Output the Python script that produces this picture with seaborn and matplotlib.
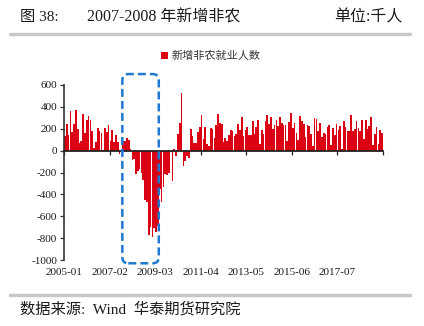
import numpy as np
import pandas as pd
import matplotlib
matplotlib.use("Agg")
import matplotlib.pyplot as plt
import matplotlib.transforms as mtransforms
from matplotlib.patches import FancyBboxPatch
import seaborn as sns

# ---------------- data (thousands, monthly) ----------------
months = pd.date_range("2005-01-01", "2019-07-01", freq="MS").strftime("%Y-%m").tolist()
nfp_2005 = [136, 240, 142, 362, 172, 246, 370, 196, 67, 84, 337, 159]
nfp_2006 = [277, 315, 280, 182, 23, 77, 207, 184, 157, 2, 210, 171]
nfp_2007 = [238, 90, 189, 79, 143, 78, -33, -24, 88, 84, 114, 97]
nfp_2008 = [17, -85, -78, -210, -185, -165, -209, -266, -452, -473, -769, -695]
nfp_2009 = [-791, -703, -740, -686, -351, -470, -329, -212, -219, -200, -7, -279]
nfp_2010 = [18, -50, 156, 251, 530, -139, -95, -53, -65, 198, 132, 71]
nfp_2011 = [70, 168, 212, 322, 102, 217, 59, 44, 207, 202, 112, 230]
nfp_2012 = [338, 257, 239, 77, 115, 87, 143, 190, 181, 132, 149, 244]
nfp_2013 = [190, 311, 135, 192, 218, 146, 140, 268, 152, 214, 280, 59]
nfp_2014 = [190, 151, 272, 329, 246, 304, 202, 230, 280, 227, 312, 255]
nfp_2015 = [234, 238, 86, 262, 344, 206, 254, 157, 100, 321, 272, 239]
nfp_2016 = [126, 237, 225, 153, 43, 297, 291, 176, 249, 124, 164, 155]
nfp_2017 = [216, 232, 50, 207, 145, 239, 190, 221, 18, 271, 216, 175]
nfp_2018 = [176, 324, 182, 196, 270, 208, 178, 282, 108, 277, 196, 227]
nfp_2019 = [312, 56, 153, 216, 62, 193, 159]
values = (nfp_2005 + nfp_2006 + nfp_2007 + nfp_2008 + nfp_2009 + nfp_2010 + nfp_2011
          + nfp_2012 + nfp_2013 + nfp_2014 + nfp_2015 + nfp_2016 + nfp_2017
          + nfp_2018 + nfp_2019)
tick_labels = ["2005-01", "2007-02", "2009-03", "2011-04", "2013-05", "2015-06", "2017-07"]
y_ticks = [-1000, -800, -600, -400, -200, 0, 200, 400, 600]
series_name = "新增非农就业人数"
highlight_start, highlight_end = "2007-09", "2009-04"

df = pd.DataFrame({"month": months, "value": values})

# ---------------- style ----------------
sns.set_theme(style="white")
plt.rcParams["font.family"] = ["Liberation Serif", "Noto Sans CJK SC"]
RED = "#dc0014"
TXT = "#1a1a1a"

W, H = 424, 326
fig = plt.figure(figsize=(W / 100, H / 100), dpi=100)
ax = fig.add_axes([64 / W, 1 - 260 / H, (383 - 64) / W, (260 - 85) / H])

sns.barplot(data=df, x="month", y="value", order=months, color=RED,
            saturation=1, width=0.92, linewidth=0, ax=ax, label=series_name)

n = len(months)
ax.set_xlim(-0.5, n - 0.5)
ax.set_ylim(-1000, 600)
ax.set_xlabel("")
ax.set_ylabel("")

# y axis
ax.set_yticks(y_ticks)
ax.set_yticklabels([str(v) for v in y_ticks], fontsize=8, color=TXT)
ax.tick_params(axis="y", direction="out", length=3, width=0.9, color="#333333",
               left=True, pad=2)

# x axis line at zero with boundary tick marks
for s in ["top", "right"]:
    ax.spines[s].set_visible(False)
ax.spines["left"].set_color("#333333")
ax.spines["left"].set_linewidth(1.2)
ax.spines["bottom"].set_position(("data", 0))
ax.spines["bottom"].set_color("#222222")
ax.spines["bottom"].set_linewidth(1.3)
ax.set_xticks(np.arange(0, n + 1, 25) - 0.5)
ax.tick_params(axis="x", direction="out", length=3, width=0.9, color="#222222",
               bottom=True, labelbottom=False)

# tick labels at the bottom of the plot
sec = ax.secondary_xaxis(0.0)
sec.set_xticks(np.arange(0, len(tick_labels) * 25, 25) - 0.5)
sec.set_xticklabels(tick_labels, fontsize=8, color=TXT)
sec.tick_params(axis="x", length=0, pad=6)
sec.spines["bottom"].set_visible(False)

# legend
leg = ax.legend(loc="center", bbox_to_anchor=(0.46, 1.166), frameon=False,
                fontsize=8, handlelength=0.6, handleheight=0.6, handletextpad=0.3,
                borderaxespad=0)
for t in leg.get_texts():
    t.set_color("#333333")

# dashed highlight box around the 2008 crisis
fig.canvas.draw()
i0 = months.index(highlight_start)
i1 = months.index(highlight_end)
x0, y0 = ax.transData.transform((i0 - 0.5, -1030))
x1, y1 = ax.transData.transform((i1 + 0.5, 700))
box = FancyBboxPatch((x0, y0), x1 - x0, y1 - y0,
                     boxstyle="round,pad=0,rounding_size=6",
                     transform=mtransforms.IdentityTransform(),
                     fill=False, edgecolor="#1f7ad0", linewidth=1.8,
                     linestyle=(0, (3.2, 1.6)), clip_on=False, zorder=5)
fig.patches.append(box)

# header / footer
fig.text(20 / W, 1 - 17 / H, "图 38:", fontsize=11, color=TXT, va="center")
fig.text(87 / W, 1 - 17 / H, "2007-2008 年新增非农", fontsize=11.5, color=TXT, va="center")
fig.text(403 / W, 1 - 17 / H, "单位:千人", fontsize=11.5, color=TXT, va="center", ha="right")
fig.add_artist(plt.Line2D([10 / W, 410 / W], [1 - 34 / H, 1 - 34 / H], color="#c8c8c8", lw=2.5))
fig.add_artist(plt.Line2D([10 / W, 410 / W], [1 - 295 / H, 1 - 295 / H], color="#c8c8c8", lw=2.5))
fig.text(20 / W, 1 - 309 / H, "数据来源:  Wind  华泰期货研究院", fontsize=11, color=TXT, va="center")

fig.savefig("out.png", dpi=100)
